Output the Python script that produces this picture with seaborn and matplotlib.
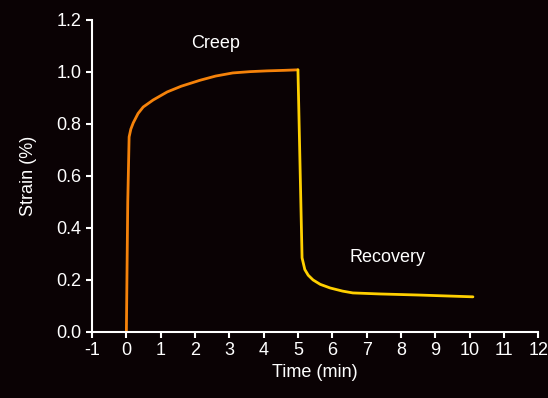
import matplotlib
matplotlib.use("Agg")
import matplotlib.pyplot as plt
import seaborn as sns
import pandas as pd

creep_time = [0.0, 0.04, 0.08, 0.13, 0.2, 0.34, 0.49, 0.78, 1.19, 1.6, 2.15, 2.6, 3.1, 3.6, 4.1, 4.6, 5.0]
creep_strain = [0.0, 0.5, 0.75, 0.78, 0.804, 0.84, 0.865, 0.892, 0.923, 0.945, 0.968, 0.984, 0.996, 1.001, 1.004, 1.006, 1.008]
rec_time = [5.0, 5.12, 5.2, 5.3, 5.44, 5.65, 5.94, 6.3, 6.6, 7.4, 8.5, 10.1]
rec_strain = [1.008, 0.285, 0.24, 0.218, 0.2, 0.183, 0.169, 0.157, 0.15, 0.146, 0.142, 0.135]

x_ticks = list(range(-1, 13))
y_ticks = [0.0, 0.2, 0.4, 0.6, 0.8, 1.0, 1.2]

df = pd.DataFrame({
    "time": creep_time + rec_time,
    "strain": creep_strain + rec_strain,
    "phase": ["Creep"] * len(creep_time) + ["Recovery"] * len(rec_time),
})

bg = "#0a0204"
sns.set_style("ticks")
plt.rcParams["font.family"] = ["Liberation Sans", "DejaVu Sans"]

fig = plt.figure(figsize=(5.48, 3.98), dpi=100, facecolor=bg)
ax = fig.add_axes([0.168, 0.166, 0.814, 0.784])
ax.set_facecolor(bg)

sns.lineplot(data=df, x="time", y="strain", hue="phase", sort=False,
             palette={"Creep": "#f5820a", "Recovery": "#ffd000"},
             linewidth=2, legend=False, ax=ax)

ax.set_xlim(-1, 12)
ax.set_ylim(0, 1.2)
ax.set_xticks(x_ticks)
ax.set_xticklabels([str(t) for t in x_ticks])
ax.set_yticks(y_ticks)
ax.set_yticklabels([f"{v:.1f}" for v in y_ticks])
ax.set_xlabel("Time (min)", color="white", fontsize=13, labelpad=3)
ax.set_ylabel("Strain (%)", color="white", fontsize=13, labelpad=14)

for s in ["top", "right"]:
    ax.spines[s].set_visible(False)
for s in ["left", "bottom"]:
    ax.spines[s].set_color("white")
    ax.spines[s].set_linewidth(1.5)
ax.tick_params(colors="white", labelcolor="white", labelsize=13, length=4, width=1.5)

ax.text(2.6, 1.11, "Creep", color="white", fontsize=13, ha="center", va="center")
ax.text(7.6, 0.285, "Recovery", color="white", fontsize=13, ha="center", va="center")

fig.savefig("out.png", dpi=100, facecolor=bg)
